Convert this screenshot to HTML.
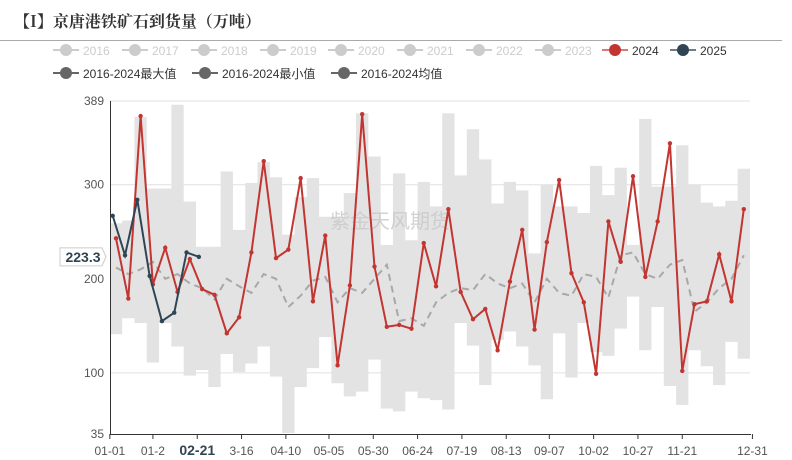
<!DOCTYPE html>
<html><head><meta charset="utf-8"><style>
body{margin:0;background:#fff;}
svg{display:block;font-family:"Liberation Sans","Noto Sans CJK SC",sans-serif;}
</style></head><body>
<svg id="chart" width="792" height="460" viewBox="0 0 792 460">
<text x="14" y="27" font-size="16" font-weight="bold" fill="#333" font-family="'Noto Serif CJK SC','Liberation Serif',serif">【I】京唐港铁矿石到货量（万吨）</text>
<line x1="0" y1="40.5" x2="782" y2="40.5" stroke="#aaa" stroke-width="1"/>
<g id="legend"></g>
<g id="grid"></g>
<g id="band"></g>
<text x="330" y="228" font-size="20" fill="#c8c8c8" opacity="0.8">紫金天风期货</text>
<g id="series"></g>
<g id="axes"></g>
</svg>
<script>
const yTicks=[35,100,200,300,389];
const xLabels=["01-01","01-2","02-21","3-16","04-10","05-05","05-30","06-24","07-19","08-13","09-07","10-02","10-27","11-21","12-31"];
const xLabelWeek=[-0.5,3,6.6,10.2,13.8,17.3,20.9,24.5,28.1,31.7,35.2,38.8,42.4,46,51.7];
const s2024=[243,179,373,194,233,186,221,189,183,142,159,228,325,222,231,307,176,246,108,193,375,213,149,151,147,238,192,274,186,157,168,124,197,252,146,239,305,206,175,99,261,218,309,202,261,344,102,173,176,226,176,274];
const s2025=[267,225,284,203,155,164,228,223.3];
const bandMax=[259,262,372,296,296,385,282,234,234,314,252,302,324,308,247,287,307,266,266,291,376,330,236,312,241,303,277,376,310,359,327,280,303,294,227,300,277,277,270,320,289,318,236,370,298,298,342,300,281,277,283,317];
const bandMin=[141,158,153,111,153,128,97,103,85,120,101,110,128,96,36,85,105,138,89,75,80,114,62,59,80,73,71,61,153,129,87,135,144,128,108,72,142,95,153,122,118,147,181,124,170,86,66,124,107,87,133,115];
const avgVals=[212,205,210,218,200,205,195,190,178,200,192,185,205,200,170,182,198,202,175,190,185,200,215,155,158,150,175,185,190,188,205,195,190,195,175,200,185,182,205,202,180,225,228,205,200,215,220,165,175,190,200,225];
const legendRow1=["2016","2017","2018","2019","2020","2021","2022","2023","2024","2025"];
const legendRow2=["2016-2024最大值","2016-2024最小值","2016-2024均值"];

const NS="http://www.w3.org/2000/svg";
const X0=110,X1=750,YT=101,YB=434,VMIN=35,VMAX=389;
const yS=v=>YB-(v-VMIN)*(YB-YT)/(VMAX-VMIN);
const step=12.31;
const xS=i=>116+i*step;
const x25=i=>112.7+i*step;
function mk(tag,attrs,parent){const e=document.createElementNS(NS,tag);for(const k in attrs)e.setAttribute(k,attrs[k]);parent.appendChild(e);return e;}
const gridG=document.getElementById('grid'),bandG=document.getElementById('band'),serG=document.getElementById('series'),axesG=document.getElementById('axes'),legG=document.getElementById('legend');

yTicks.forEach(t=>{
  if(t!==VMIN){const l=mk('line',{x1:X0,x2:X1,y1:yS(t),y2:yS(t),stroke:'#e0e0e0'},gridG);
  
  }
  const tx=mk('text',{x:104,y:yS(t)+4,'text-anchor':'end','font-size':12,fill:'#555'},axesG);tx.textContent=t;
  
  
});
let topPath='',botPath='';
bandMax.forEach((v,i)=>{const a=Math.max(X0,xS(i)-step/2),b=Math.min(X1,xS(i)+step/2);topPath+=(i?'L':'M')+a+','+yS(v)+'L'+b+','+yS(v);});
for(let i=bandMin.length-1;i>=0;i--){const a=Math.max(X0,xS(i)-step/2),b=Math.min(X1,xS(i)+step/2);botPath+='L'+b+','+yS(bandMin[i])+'L'+a+','+yS(bandMin[i]);}
const bp=mk('path',{d:topPath+botPath+'Z',fill:'#e3e3e3'},bandG);


const avgP=mk('path',{d:avgVals.map((v,i)=>(i?'L':'M')+xS(i)+','+yS(v)).join(''),fill:'none',stroke:'#a8a8a8','stroke-width':2,'stroke-dasharray':'7,5'},bandG);



function drawLine(data,xf,color,name){
  const p=mk('path',{d:data.map((v,i)=>(i?'L':'M')+xf(i)+','+yS(v)).join(''),fill:'none',stroke:color,'stroke-width':2},serG);
  
  
  data.forEach((v,i)=>{const c=mk('circle',{cx:xf(i),cy:yS(v),r:2.2,fill:color},serG);
    
    });
}
drawLine(s2024,xS,'#c23531','series-2024');
drawLine(s2025,x25,'#2f4554','series-2025');

const ya=mk('line',{x1:X0+.5,x2:X0+.5,y1:YT,y2:YB,stroke:'#333'},axesG);


const xa=mk('line',{x1:X0,x2:X1+1,y1:YB+.5,y2:YB+.5,stroke:'#333'},axesG);


xLabels.forEach((l,i)=>{
  const px=xS(xLabelWeek[i]);
  mk('line',{x1:px,x2:px,y1:YB,y2:YB+5,stroke:'#333'},axesG);
  const bold=l==='02-21';
  const t=mk('text',{x:px,y:455,'text-anchor':'middle','font-size':bold?14:12,'font-weight':bold?'bold':'normal',fill:bold?'#2f4554':'#555'},axesG);
  t.textContent=l;
  
  
});
const lastVal=s2025[s2025.length-1];
const tagP=mk('path',{d:`M60,${yS(lastVal)-9}H102L106,${yS(lastVal)}L102,${yS(lastVal)+9}H60Z`,fill:'#fff',stroke:'#ccc'},axesG);


const tt=mk('text',{x:83,y:yS(lastVal)+5,'text-anchor':'middle','font-size':14,'font-weight':'bold',fill:'#2f4554'},axesG);
tt.textContent=lastVal.toFixed(1);



legendRow1.forEach((n,i)=>{
  const cx=[66,135,204,273,341,410,479,548,615,683][i];
  const col=n==='2024'?'#c23531':n==='2025'?'#2f4554':'#ccc';
  const lc=n==='2024'?'#d97a76':n==='2025'?'#6d7d88':'#ccc';
  const g=mk('g',{},legG);
  
  
  mk('line',{x1:cx-13,x2:cx+13,y1:50,y2:50,stroke:lc,'stroke-width':2},g);
  mk('circle',{cx:cx,cy:50,r:6,fill:col},g);
  const t=mk('text',{x:cx+17,y:55,'font-size':12,fill:(n==='2024'||n==='2025')?'#333':'#ccc'},g);t.textContent=n;
});
legendRow2.forEach((n,i)=>{
  const cx=[66,205,344][i];
  const g=mk('g',{},legG);
  
  
  mk('line',{x1:cx-13,x2:cx+13,y1:73,y2:73,stroke:'#666','stroke-width':2},g);
  mk('circle',{cx:cx,cy:73,r:6,fill:'#666'},g);
  const t=mk('text',{x:cx+17,y:78,'font-size':12,fill:'#333'},g);t.textContent=n;
});
</script>
</body></html>
